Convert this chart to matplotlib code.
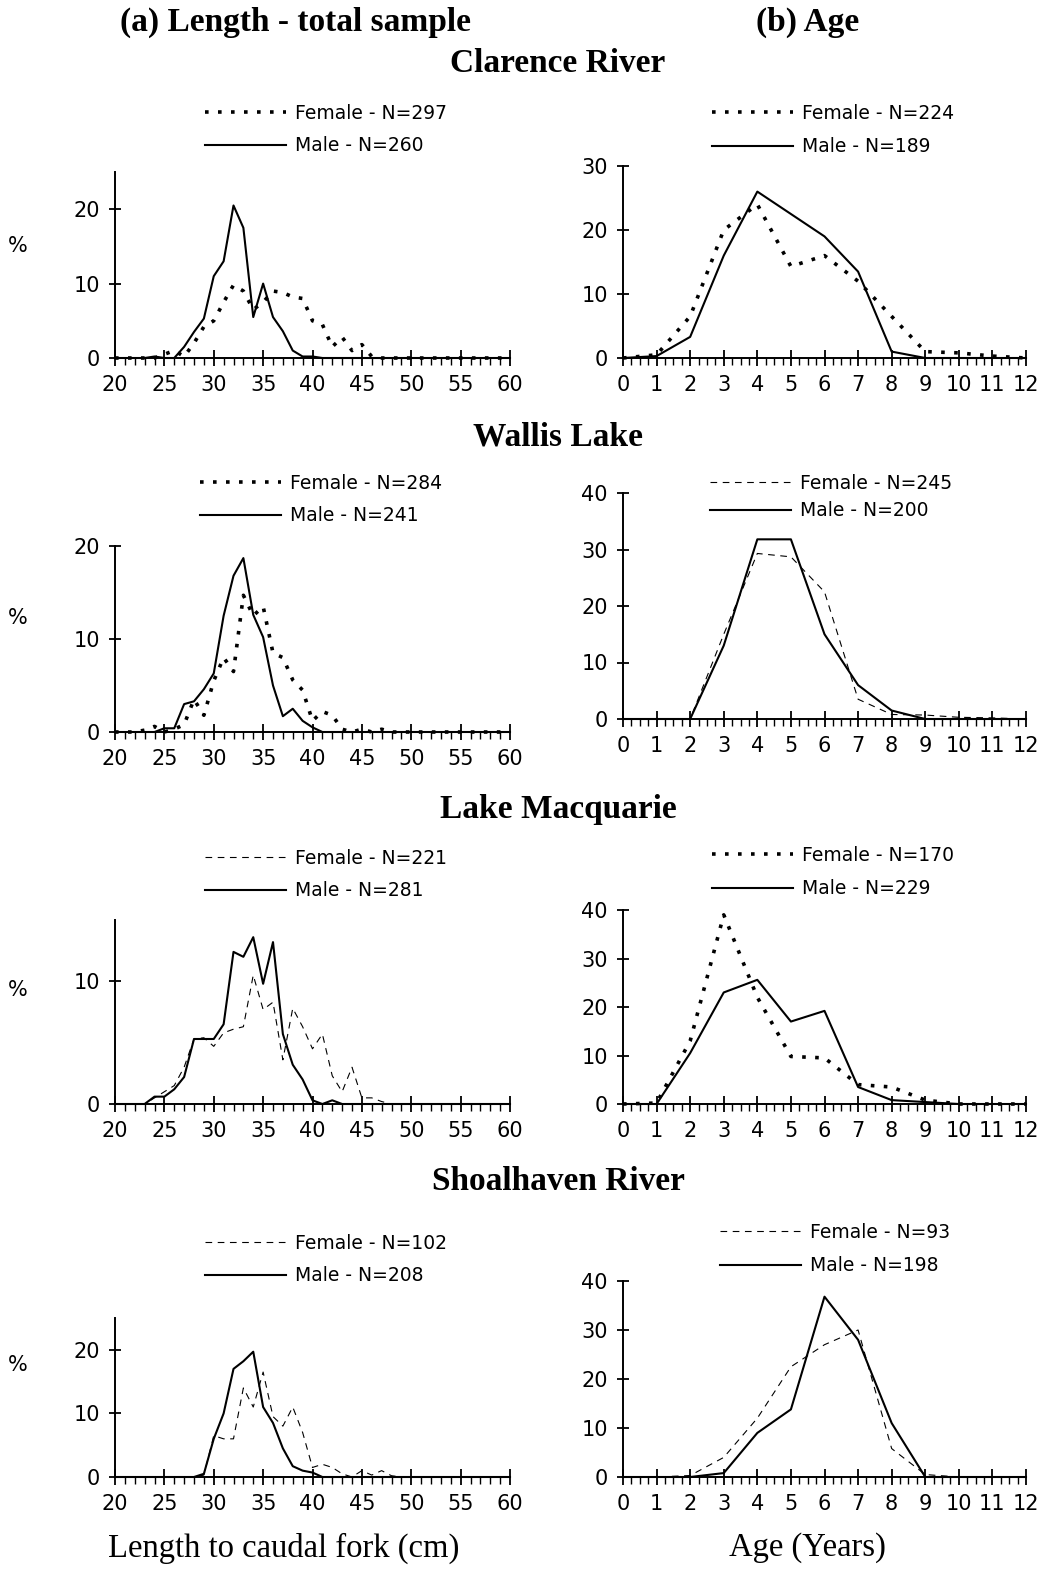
import matplotlib
matplotlib.use("Agg")
import matplotlib.pyplot as plt
from matplotlib.ticker import MultipleLocator

W, H = 1043, 1575

# fork length classes (cm) and age classes (years)
length_cm = list(range(20, 61))
age_yr = list(range(0, 13))

# Clarence River
clarence_len_female = [0, 0, 0, 0, 0, 0.5, 1, 0.2, 2, 4.2, 5, 7.5, 9.8, 9, 6.5, 7.5, 9, 8.8, 8.2, 8,
                       5, 4.5, 1.5, 2.8, 1, 1.8, 0.2, 0, 0, 0, 0, 0, 0, 0, 0, 0, 0, 0, 0, 0, 0]
clarence_len_male = [0, 0, 0, 0, 0.2, 0, 0, 1.5, 3.5, 5.3, 11, 13, 20.5, 17.5, 5.5, 10, 5.5, 3.6, 1, 0.2,
                     0.2, 0, 0, 0, 0, 0, 0, 0, 0, 0, 0, 0, 0, 0, 0, 0, 0, 0, 0, 0, 0]
clarence_age_female = [0, 0.5, 6.5, 20, 24, 14.3, 16, 12, 6.5, 1, 0.8, 0.3, 0]
clarence_age_male = [0, 0.3, 3.3, 16, 26, 22.5, 19, 13.5, 1, 0, 0, 0, 0]

# Wallis Lake
wallis_len_female = [0, 0, 0, 0.2, 0.6, 0, 0.3, 0.8, 3.5, 1.8, 5.5, 8, 6.5, 14.7, 12.5, 13.5, 8.5, 8, 5.6, 4.5,
                     1.2, 2.2, 1.8, 0.3, 0, 0.3, 0, 0.3, 0, 0, 0, 0, 0, 0, 0, 0, 0, 0, 0, 0, 0]
wallis_len_male = [0, 0, 0, 0, 0, 0.4, 0.4, 3, 3.3, 4.6, 6.3, 12.5, 16.8, 18.7, 12.6, 10.2, 5, 1.7, 2.5, 1.2,
                   0.5, 0, 0, 0, 0, 0, 0, 0, 0, 0, 0, 0, 0, 0, 0, 0, 0, 0, 0, 0, 0]
wallis_age_female = [0, 0, 0, 15, 29.3, 28.7, 22.5, 3.5, 0.8, 0.7, 0.3, 0.2, 0]
wallis_age_male = [0, 0, 0, 13, 31.8, 31.8, 15, 6, 1.5, 0, 0, 0, 0]

# Lake Macquarie
macq_len_female = [0, 0, 0, 0, 0.5, 1, 1.5, 3, 5.3, 5.4, 4.7, 5.8, 6.1, 6.3, 10.5, 7.7, 8.3, 3.6, 7.8, 6.3,
                   4.5, 5.7, 2.3, 1, 3, 0.5, 0.5, 0.2, 0, 0, 0, 0, 0, 0, 0, 0, 0, 0, 0, 0, 0]
macq_len_male = [0, 0, 0, 0, 0.6, 0.6, 1.2, 2.2, 5.3, 5.3, 5.3, 6.5, 12.4, 12, 13.6, 9.8, 13.2, 5.7, 3.2, 2,
                 0.3, 0, 0.3, 0, 0, 0, 0, 0, 0, 0, 0, 0, 0, 0, 0, 0, 0, 0, 0, 0, 0]
macq_age_female = [0, 0.2, 13, 39, 22, 9.8, 9.5, 4, 3.5, 0.8, 0, 0, 0]
macq_age_male = [0, 0, 10.5, 23, 25.6, 17, 19.2, 3.5, 0.8, 0.4, 0, 0, 0]

# Shoalhaven River
shoal_len_female = [0, 0, 0, 0, 0, 0, 0, 0, 0, 0.3, 6.5, 6, 6, 14, 11, 16.5, 9.5, 8, 11, 7,
                    1.5, 2, 1.5, 0.5, 0, 1, 0.3, 1, 0.2, 0, 0, 0, 0, 0, 0, 0, 0, 0, 0, 0, 0]
shoal_len_male = [0, 0, 0, 0, 0, 0, 0, 0, 0, 0.5, 6, 10, 17, 18.2, 19.7, 11, 8.5, 4.5, 1.7, 1,
                  0.7, 0, 0, 0, 0, 0, 0, 0, 0, 0, 0, 0, 0, 0, 0, 0, 0, 0, 0, 0, 0]
shoal_age_female = [0, 0, 0.3, 4, 12, 22.5, 27, 30, 5.8, 0.5, 0, 0, 0]
shoal_age_male = [0, 0, 0, 0.8, 9, 13.8, 36.8, 28, 11, 0, 0, 0, 0]

sites = ["Clarence River", "Wallis Lake", "Lake Macquarie", "Shoalhaven River"]
n_len = [(297, 260), (284, 241), (221, 281), (102, 208)]
n_age = [(224, 189), (245, 200), (170, 229), (93, 198)]

SANS = "DejaVu Sans"
SERIF = "Liberation Serif"
plt.rcParams["font.family"] = SANS
plt.rcParams["font.size"] = 13

BOLD_DOTS = dict(linestyle=(0, (1, 2.6)), linewidth=2.6)
THIN_DASH = dict(linestyle=(0, (6, 5)), linewidth=0.8)

fig = plt.figure(figsize=(W / 100, H / 100), dpi=100)


def add_axes_px(left, right, y_zero, y_top):
    return fig.add_axes([left / W, 1 - y_zero / H, (right - left) / W, (y_zero - y_top) / H])


def fig_text(x, y, s, **kw):
    fig.text(x / W, 1 - y / H, s, ha="center", va="center", **kw)


def style_axes(ax, minor_step):
    for side in ("top", "right"):
        ax.spines[side].set_visible(False)
    for side in ("left", "bottom"):
        ax.spines[side].set_linewidth(1.4)
    ax.xaxis.set_minor_locator(MultipleLocator(minor_step))
    ax.tick_params(axis="x", which="major", direction="inout", length=11, width=1.3, pad=7)
    ax.tick_params(axis="x", which="minor", direction="out", length=5, width=1.0)
    ax.tick_params(axis="y", which="major", direction="inout", length=8, width=1.3, pad=7)
    ax.tick_params(labelsize=15)


def draw_panel(ax, x, female, male, nf, nm, fstyle, legend_px):
    ax.plot(x, female, color="black", clip_on=False, label=f"Female - N={nf}", **fstyle)
    ax.plot(x, male, color="black", linewidth=1.5, clip_on=False, label=f"Male - N={nm}")
    lx, ly, spacing = legend_px
    ax.legend(loc="upper left", bbox_to_anchor=(lx / W, 1 - ly / H), bbox_transform=fig.transFigure,
              frameon=False, borderpad=0, borderaxespad=0, handlelength=4.3, handletextpad=0.5,
              labelspacing=spacing, fontsize=13.5)


# panel geometry in pixels: (y of zero line, y of axis top, y max, y ticks)
length_rows = [(358, 172, 25, [0, 10, 20]), (732, 546, 20, [0, 10, 20]),
               (1104, 920, 15, [0, 10]), (1477, 1318, 25, [0, 10, 20])]
age_rows = [(358, 166, 30, [0, 10, 20, 30]), (719, 493, 40, [0, 10, 20, 30, 40]),
            (1104, 910, 40, [0, 10, 20, 30, 40]), (1477, 1281, 40, [0, 10, 20, 30, 40])]

len_data = [(clarence_len_female, clarence_len_male), (wallis_len_female, wallis_len_male),
            (macq_len_female, macq_len_male), (shoal_len_female, shoal_len_male)]
age_data = [(clarence_age_female, clarence_age_male), (wallis_age_female, wallis_age_male),
            (macq_age_female, macq_age_male), (shoal_age_female, shoal_age_male)]

len_fstyle = [BOLD_DOTS, BOLD_DOTS, THIN_DASH, THIN_DASH]
age_fstyle = [BOLD_DOTS, THIN_DASH, BOLD_DOTS, THIN_DASH]

len_legend = [(205, 104, 0.7), (200, 474, 0.7), (205, 849, 0.7), (205, 1234, 0.7)]
age_legend = [(712, 104, 0.75), (710, 474, 0.45), (712, 846, 0.75), (720, 1223, 0.75)]

site_title_y = [63, 437, 809, 1181]
pct_y = [246, 618, 990, 1365]

for i in range(4):
    y0, ytop, ymax, yt = length_rows[i]
    ax = add_axes_px(115, 510, y0, ytop)
    draw_panel(ax, length_cm, len_data[i][0], len_data[i][1], n_len[i][0], n_len[i][1],
               len_fstyle[i], len_legend[i])
    ax.set_xlim(20, 60)
    ax.set_ylim(0, ymax)
    ax.set_xticks(range(20, 61, 5))
    ax.set_yticks(yt)
    style_axes(ax, 1)

    y0, ytop, ymax, yt = age_rows[i]
    ax = add_axes_px(623, 1026, y0, ytop)
    draw_panel(ax, age_yr, age_data[i][0], age_data[i][1], n_age[i][0], n_age[i][1],
               age_fstyle[i], age_legend[i])
    ax.set_xlim(0, 12)
    ax.set_ylim(0, ymax)
    ax.set_xticks(range(0, 13))
    ax.set_yticks(yt)
    style_axes(ax, 0.25)

    fig_text(558, site_title_y[i], sites[i], family=SERIF, fontweight="bold", fontsize=24)
    fig_text(18, pct_y[i], "%", fontsize=15)

fig_text(295, 22, "(a) Length - total sample", family=SERIF, fontweight="bold", fontsize=24)
fig_text(808, 22, "(b) Age", family=SERIF, fontweight="bold", fontsize=24)
fig_text(284, 1548, "Length to caudal fork (cm)", family=SERIF, fontsize=23.5)
fig_text(807, 1548, "Age (Years)", family=SERIF, fontsize=23.5)

fig.savefig("out.png", dpi=100)
